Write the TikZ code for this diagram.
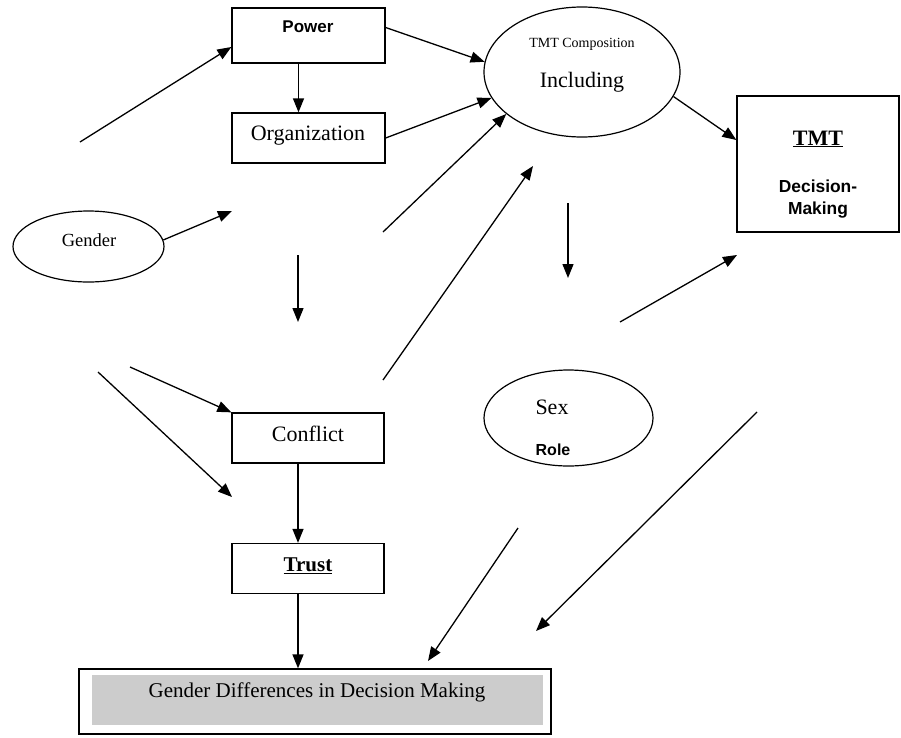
\documentclass[tikz,border=0pt]{standalone}
\usepackage{fontspec}
\setmainfont{Liberation Serif}
\newfontfamily\arialf{Liberation Sans}
\usetikzlibrary{arrows.meta,shapes.geometric}
\begin{document}
\begin{tikzpicture}[x=1pt,y=-1pt,
  box/.style={draw, line width=1.3pt, rectangle, inner sep=0pt},
  oval/.style={draw, line width=1.2pt, ellipse, inner sep=0pt},
  arr/.style={line width=1.3pt, -{Triangle[length=14pt,width=11pt]}},
  lbl/.style={inner sep=0pt, anchor=center}
]
\useasboundingbox (0,0) rectangle (901,737);
\fill[white] (0,0) rectangle (901,737);

% boxes
\node[box, minimum width=153pt, minimum height=55pt] (power) at (308.5,35.5) {};
\node[box, minimum width=153pt, minimum height=50pt] (org) at (308.5,138) {};
\node[box, minimum width=152pt, minimum height=50pt] (conflict) at (308,438) {};
\node[box, minimum width=152pt, minimum height=50pt] (trust) at (308,568.5) {};
\node[box, minimum width=162pt, minimum height=136pt] (tmtbox) at (818,164) {};
\node[box, minimum width=472pt, minimum height=65pt] (bottom) at (315,701.5) {};
\fill[gray!40] (92,675) rectangle (543,725);

% ellipses
\node[oval, minimum width=196pt, minimum height=130pt] (tmt) at (582,72) {};
\node[oval, minimum width=151pt, minimum height=71pt] (gender) at (88.5,246.5) {};
\node[oval, minimum width=169pt, minimum height=96pt] (sex) at (568.5,418) {};

% labels
\node[lbl] (powerT) at (308,27) {\arialf\bfseries\fontsize{17}{20}\selectfont Power};
\node[lbl] (orgT) at (308,136) {\fontsize{22}{26}\selectfont Organization};
\node[lbl] (conflictT) at (308,434) {\fontsize{22}{26}\selectfont Conflict};
\node[lbl] (trustT) at (308,566) {\fontsize{21}{25}\selectfont\bfseries\underline{Trust}};
\node[lbl] (tmtT1) at (582,44) {\fontsize{14}{17}\selectfont TMT Composition};
\node[lbl] (tmtT2) at (582,82) {\fontsize{22}{26}\selectfont Including};
\node[lbl] (genderT) at (89,240) {\fontsize{18.5}{22}\selectfont Gender};
\node[lbl] (sexT) at (552,407) {\fontsize{22}{26}\selectfont Sex};
\node[lbl] (roleT) at (553,450) {\arialf\bfseries\fontsize{16}{19}\selectfont Role};
\node[lbl] (tmtbT) at (818,139) {\fontsize{22}{26}\selectfont\bfseries\underline{TMT}};
\node[lbl, align=center, font=\arialf\bfseries\fontsize{17.4}{22}\selectfont] (tmtbD) at (818,199) {Decision-\\Making};
\node[lbl] (bottomT) at (317,692) {\fontsize{21}{25}\selectfont Gender Differences in Decision Making};

% free ends
\coordinate (f1) at (80,142);
\coordinate (f5) at (383,232);
\coordinate (f6a) at (383,380);
\coordinate (f6b) at (533,166);
\coordinate (f7) at (232,211);
\coordinate (f8a) at (298,255);
\coordinate (f8b) at (298,322);
\coordinate (f9a) at (568,203);
\coordinate (f9b) at (568,278);
\coordinate (f11a) at (620,322);
\coordinate (f11b) at (737,255);
\coordinate (f12) at (130,367);
\coordinate (f13a) at (98,372);
\coordinate (f13b) at (232,497);
\coordinate (f16a) at (518,528);
\coordinate (f16b) at (428,661);
\coordinate (f17a) at (757,412);
\coordinate (f17b) at (536,631);

% connectors
\draw[arr] (f1) -- ([yshift=-11.5pt]power.west);
\draw[arr] ([xshift=-10pt]power.south) -- ([xshift=-10pt]org.north);
\draw[arr] ([yshift=8pt]power.east) -- (tmt.174);
\draw[arr] (org.east) -- (tmt.196);
\draw[arr] (f5) -- (tmt.209);
\draw[arr] (f6a) -- (f6b);
\draw[arr] (gender.5) -- (f7);
\draw[arr] (f8a) -- (f8b);
\draw[arr] (f9a) -- (f9b);
\draw[arr] (tmt.345) -- ([yshift=24pt]tmtbox.west);
\draw[arr] (f11a) -- (f11b);
\draw[arr] (f12) -- (conflict.north west);
\draw[arr] (f13a) -- (f13b);
\draw[arr] ([xshift=-10pt]conflict.south) -- ([xshift=-10pt]trust.north);
\draw[arr] ([xshift=-10pt]trust.south) -- ([xshift=-10pt]trust.south |- bottom.north);
\draw[arr] (f16a) -- (f16b);
\draw[arr] (f17a) -- (f17b);
\end{tikzpicture}
\end{document}
